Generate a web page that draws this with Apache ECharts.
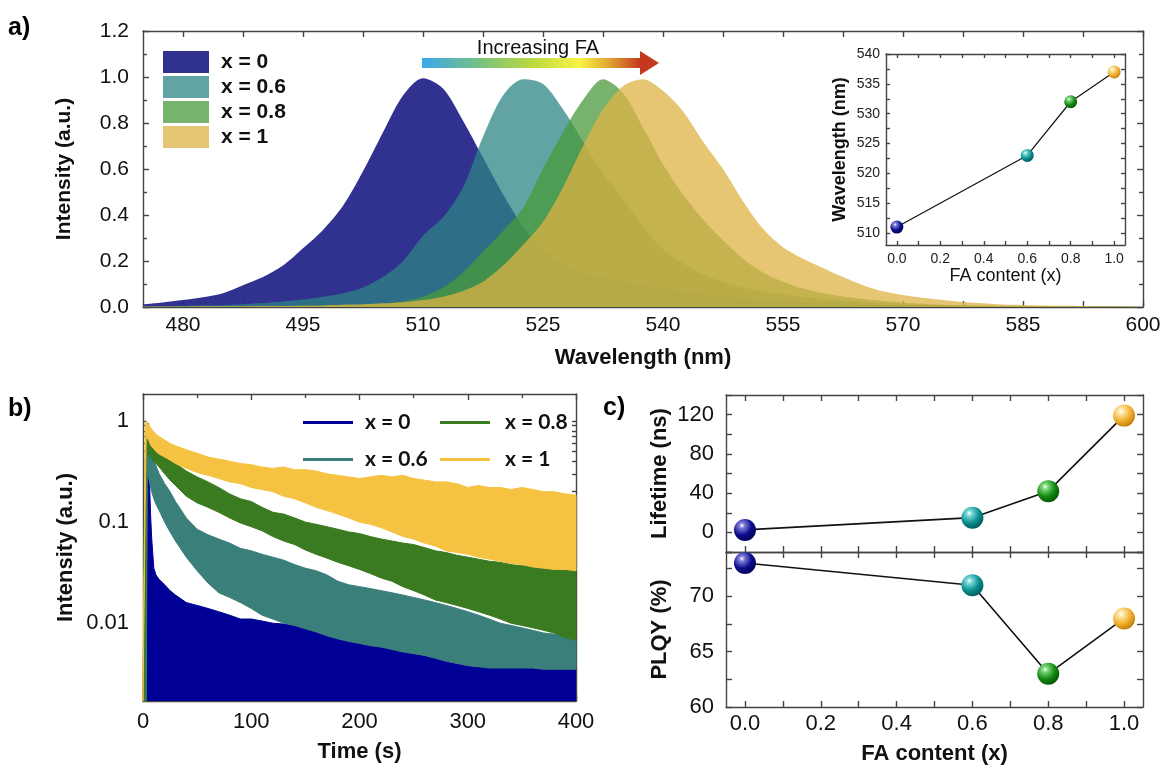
<!DOCTYPE html>
<html><head><meta charset="utf-8">
<script src="https://cdn.jsdelivr.net/npm/echarts@6/dist/echarts.min.js"></script>
<style>html,body{margin:0;padding:0;background:#fff}#c{width:1165px;height:766px}</style>
</head><body><div id="c"></div>
<script>
// ---------- Panel a: PL spectra ----------
const WL = [475,477.5,480,482.5,485,487.5,490,492.5,495,497.5,500,502.5,505,507.5,510,512.5,515,517.5,520,522.5,525,527.5,530,532.5,535,537.5,540,542.5,545,547.5,550,552.5,555,557.5,560,562.5,565,567.5,570,572.5,575,577.5,580,582.5,585,587.5,590,592.5,595,597.5,600];
const PL_X0  = [0.012,0.02,0.03,0.042,0.06,0.095,0.13,0.18,0.255,0.335,0.44,0.59,0.76,0.92,0.995,0.95,0.81,0.65,0.49,0.35,0.25,0.19,0.15,0.13,0.11,0.095,0.08,0.066,0.055,0.046,0.038,0.032,0.026,0.021,0.017,0.014,0.011,0.009,0.007,0.006,0.005,0.004,0.003,0.003,0.002,0.002,0.002,0.001,0.001,0.001,0.001];
const PL_X06 = [0.002,0.003,0.004,0.006,0.008,0.012,0.017,0.024,0.033,0.045,0.06,0.085,0.13,0.2,0.31,0.39,0.52,0.74,0.92,0.99,0.97,0.86,0.72,0.58,0.47,0.35,0.25,0.19,0.14,0.11,0.085,0.068,0.054,0.043,0.034,0.027,0.021,0.016,0.012,0.009,0.007,0.005,0.004,0.003,0.003,0.002,0.002,0.002,0.001,0.001,0.001];
const PL_X08 = [0.001,0.001,0.002,0.002,0.002,0.003,0.003,0.004,0.005,0.007,0.009,0.011,0.015,0.025,0.045,0.085,0.15,0.24,0.33,0.43,0.6,0.76,0.9,0.99,0.93,0.78,0.62,0.49,0.38,0.29,0.21,0.15,0.11,0.08,0.06,0.046,0.035,0.026,0.019,0.014,0.01,0.008,0.006,0.005,0.004,0.003,0.003,0.002,0.002,0.001,0.001];
const PL_X1  = [0.002,0.002,0.002,0.003,0.003,0.003,0.004,0.004,0.005,0.007,0.01,0.012,0.016,0.021,0.03,0.045,0.07,0.11,0.18,0.27,0.37,0.52,0.7,0.86,0.96,0.99,0.94,0.85,0.72,0.6,0.46,0.34,0.26,0.21,0.17,0.13,0.095,0.068,0.052,0.04,0.03,0.022,0.016,0.011,0.009,0.006,0.005,0.004,0.003,0.003,0.002];
const A_X_LABELS = [480,495,510,525,540,555,570,585,600];
const A_Y_LABELS = [0,0.2,0.4,0.6,0.8,1.0,1.2];

// ---------- inset / panel c ----------
const FA = [0, 0.6, 0.8, 1.0];
const PEAK_WL = [511, 523, 532, 537];
const LIFETIME = [2.5, 15, 42, 119];
const PLQY = [73, 71, 63, 68];
const FA_LABELS = [0, 0.2, 0.4, 0.6, 0.8, 1.0];
const INSET_Y_LABELS = [510,515,520,525,530,535,540];
const LT_LABELS = [0, 40, 80, 120];
const PLQY_LABELS = [60, 65, 70];

// ---------- Panel b: decay envelopes (upper / lower edge of each noisy trace) ----------
const TB = [0,2,3,4,5,6,7,8,10,12,15,20,25,30,40,50,60,70,80,90,100,110,120,130,140,150,160,170,180,190,200,210,220,230,240,250,260,270,280,290,300,310,320,330,340,350,360,370,380,390,400];
const X0_UP = [0.002,0.002,0.2,0.8,0.95,0.25,0.12,0.07,0.035,0.03,0.027,0.024,0.021,0.019,0.016,0.015,0.014,0.013,0.012,0.011,0.011,0.0105,0.01,0.0098,0.0095,0.009,0.0085,0.0078,0.007,0.0066,0.0065,0.0063,0.0062,0.006,0.006,0.0058,0.0056,0.0055,0.0054,0.0052,0.005,0.0049,0.0048,0.0046,0.0044,0.0042,0.004,0.0038,0.0037,0.0036,0.0035];
const X06_UP = [0.002,0.03,0.5,0.75,0.68,0.6,0.55,0.5,0.42,0.36,0.3,0.24,0.2,0.16,0.11,0.085,0.075,0.068,0.062,0.055,0.052,0.048,0.045,0.042,0.038,0.035,0.033,0.03,0.026,0.024,0.023,0.022,0.021,0.02,0.019,0.018,0.017,0.016,0.015,0.014,0.013,0.012,0.011,0.01,0.0095,0.009,0.0085,0.008,0.0078,0.0075,0.007];
const X06_LO = [0.0017,0.0017,0.0017,0.3,0.28,0.25,0.22,0.2,0.17,0.15,0.13,0.1,0.08,0.065,0.045,0.033,0.025,0.02,0.018,0.016,0.014,0.012,0.011,0.01,0.0095,0.0088,0.0082,0.0075,0.007,0.0066,0.0063,0.006,0.0058,0.0055,0.0052,0.005,0.0048,0.0045,0.0042,0.004,0.0038,0.0037,0.0036,0.0036,0.0036,0.0036,0.0036,0.0035,0.0035,0.0035,0.0035];
const X08_UP = [0.002,0.4,0.85,0.8,0.76,0.72,0.67,0.63,0.58,0.55,0.52,0.47,0.42,0.38,0.32,0.28,0.25,0.22,0.19,0.17,0.16,0.14,0.125,0.12,0.11,0.1,0.095,0.09,0.085,0.08,0.077,0.072,0.068,0.065,0.062,0.06,0.056,0.052,0.05,0.047,0.045,0.043,0.041,0.04,0.038,0.037,0.037,0.036,0.036,0.035,0.036];
const X08_LO = [0.0017,0.0017,0.4,0.5,0.48,0.46,0.44,0.42,0.4,0.38,0.35,0.3,0.26,0.23,0.18,0.155,0.14,0.125,0.11,0.098,0.09,0.082,0.072,0.065,0.06,0.053,0.048,0.044,0.04,0.037,0.034,0.031,0.028,0.026,0.023,0.021,0.019,0.017,0.016,0.015,0.014,0.013,0.012,0.011,0.01,0.0095,0.009,0.0085,0.008,0.0072,0.0068];
const X1_UP = [0.002,0.9,1.0,0.97,0.93,0.9,0.86,0.83,0.78,0.74,0.7,0.65,0.6,0.57,0.52,0.48,0.44,0.42,0.4,0.38,0.37,0.35,0.34,0.35,0.33,0.33,0.32,0.3,0.29,0.28,0.27,0.28,0.29,0.28,0.29,0.27,0.26,0.25,0.25,0.24,0.22,0.23,0.22,0.22,0.21,0.22,0.21,0.2,0.2,0.19,0.185];
const X1_LO = [0.0017,0.15,0.7,0.68,0.65,0.62,0.58,0.56,0.53,0.5,0.47,0.44,0.41,0.38,0.34,0.31,0.29,0.27,0.25,0.24,0.22,0.21,0.2,0.18,0.17,0.155,0.14,0.13,0.12,0.11,0.1,0.095,0.088,0.08,0.072,0.068,0.062,0.058,0.052,0.05,0.048,0.045,0.043,0.041,0.039,0.038,0.036,0.035,0.034,0.034,0.033];
const B_X_LABELS = [0,100,200,300,400];
const B_Y_LABELS = [0.01, 0.1, 1];

// ---------- styles ----------
const FONT = "'Liberation Sans', Arial, sans-serif";
const A_COLORS = ['rgba(38,38,137,0.95)','rgba(46,132,132,0.75)','rgba(74,154,59,0.75)','rgba(222,179,68,0.75)'];
const B_COLORS = ['#000096','#3b7f7b','#3a7a20','#f5c242'];
const BALLS = [['#7a7ad8','#0c0c8c','#00004a'],['#7ad8d8','#0a9090','#004f4f'],['#7ad87a','#138a13','#004a00'],['#ffe6a8','#f0b030','#b87300']];
const NAMES = ['x = 0','x = 0.6','x = 0.8','x = 1'];

function ball(i){ const c=BALLS[i]; return {type:'radial',x:0.36,y:0.3,r:0.8,colorStops:[{offset:0,color:'#ffffff'},{offset:0.16,color:c[0]},{offset:0.55,color:c[1]},{offset:1,color:c[2]}]}; }
function merge(a,b){ for(const k in b){ const v=b[k]; if(v&&typeof v==='object'&&!Array.isArray(v)&&a[k]&&typeof a[k]==='object'&&!Array.isArray(a[k])) merge(a[k],v); else a[k]=v; } return a; }
const AXL = {color:'#444', width:1.4};
function axis(grid, pos, o){
  const isX = pos==='bottom'||pos==='top';
  const base = {type:'value', gridIndex:grid, position:pos,
    axisLine:{show:true,onZero:false,lineStyle:AXL},
    axisTick:{show:true,inside:true,length:6,lineStyle:AXL},
    minorTick:{show:false},
    axisLabel:{show:(pos==='bottom'||pos==='left'),color:'#111',fontSize:20,fontFamily:FONT,margin:isX?8:14},
    splitLine:{show:false},
    nameTextStyle:{fontFamily:FONT,fontWeight:'bold',fontSize:21,color:'#111'}};
  return merge(base, o||{});
}
function steps(a,b,s){ const r=[]; for(let v=a; v<=b+1e-9; v+=s) r.push(+v.toFixed(4)); return r; }
const A_X_TICKS = steps(480,600,7.5);
const FA_TICKS = steps(0,1,0.1);
const INSET_Y_TICKS = steps(510,540,2.5);
const LOG_TICKS = []; [0.001,0.01,0.1].forEach(d=>{ for(let k=1;k<=9;k++){ const v=+(d*k).toPrecision(3); if(v>=0.0017) LOG_TICKS.push(v);} }); LOG_TICKS.push(1);
const f1 = v => Number(v).toFixed(1);

const xAxis = [
  axis(0,'bottom',{min:475,max:600,axisLabel:{customValues:A_X_LABELS,margin:8,fontSize:21},axisTick:{customValues:A_X_TICKS},name:'Wavelength (nm)',nameLocation:'middle',nameGap:40,nameTextStyle:{fontSize:22}}),
  axis(0,'top',{min:475,max:600,axisTick:{customValues:A_X_TICKS}}),
  axis(1,'bottom',{min:-0.05,max:1.05,axisLabel:{customValues:FA_LABELS,formatter:f1,fontSize:14,margin:7,color:'#222'},axisTick:{customValues:FA_TICKS,length:4},name:'FA content (x)',nameLocation:'middle',nameGap:22,nameTextStyle:{fontSize:18,fontWeight:'normal'}}),
  axis(1,'top',{min:-0.05,max:1.05,axisTick:{customValues:FA_TICKS,length:4}}),
  axis(2,'bottom',{min:0,max:400,interval:100,minorTick:{show:true,splitNumber:2,length:4,lineStyle:AXL},axisLabel:{customValues:B_X_LABELS,fontSize:22,margin:10},name:'Time (s)',nameLocation:'middle',nameGap:40,nameTextStyle:{fontSize:22}}),
  axis(2,'top',{min:0,max:400,interval:100,minorTick:{show:true,splitNumber:2,length:4,lineStyle:AXL}}),
  axis(3,'bottom',{min:-0.05,max:1.05,axisLabel:{show:false},axisTick:{customValues:FA_TICKS}}),
  axis(3,'top',{min:-0.05,max:1.05,axisTick:{customValues:FA_TICKS}}),
  axis(4,'bottom',{min:-0.05,max:1.05,axisLabel:{customValues:FA_LABELS,formatter:f1,fontSize:22,margin:6},axisTick:{customValues:FA_TICKS},name:'FA content (x)',nameLocation:'middle',nameGap:36,nameTextStyle:{fontSize:22}}),
  axis(4,'top',{min:-0.05,max:1.05,axisTick:{customValues:FA_TICKS}})
];
const yAxis = [
  axis(0,'left',{min:0,max:1.2,interval:0.2,minorTick:{show:true,splitNumber:2,length:4,lineStyle:AXL},axisLabel:{formatter:f1,fontSize:21,margin:14},name:'Intensity (a.u.)',nameLocation:'middle',nameGap:68}),
  axis(0,'right',{min:0,max:1.2,interval:0.2,minorTick:{show:true,splitNumber:2,length:4,lineStyle:AXL}}),
  axis(1,'left',{min:508,max:540,axisLabel:{customValues:INSET_Y_LABELS,fontSize:14,margin:6,color:'#222'},axisTick:{customValues:INSET_Y_TICKS,length:4},name:'Wavelength (nm)',nameLocation:'middle',nameGap:37,nameTextStyle:{fontSize:18}}),
  axis(1,'right',{min:508,max:540,axisTick:{customValues:INSET_Y_TICKS,length:4}}),
  axis(2,'left',{type:'log',logBase:10,min:0.0017,max:1.85,axisLabel:{customValues:B_Y_LABELS,fontSize:22,margin:14,formatter:v=>String(v)},axisTick:{customValues:LOG_TICKS,length:4},name:'Intensity (a.u.)',nameLocation:'middle',nameGap:66,nameTextStyle:{fontSize:22}}),
  axis(2,'right',{type:'log',logBase:10,min:0.0017,max:1.85,axisTick:{customValues:LOG_TICKS,length:4}}),
  axis(3,'left',{min:-20,max:140,interval:20,axisLabel:{customValues:LT_LABELS,fontSize:22,margin:12},name:'Lifetime (ns)',nameLocation:'middle',nameGap:55,nameTextStyle:{fontSize:22}}),
  axis(3,'right',{min:-20,max:140,interval:20}),
  axis(4,'left',{min:60,max:74,interval:2.5,axisLabel:{customValues:PLQY_LABELS,fontSize:22,margin:12},name:'PLQY (%)',nameLocation:'middle',nameGap:55,nameTextStyle:{fontSize:22}}),
  axis(4,'right',{min:60,max:74,interval:2.5})
];

const series = [];
[PL_X0,PL_X06,PL_X08,PL_X1].forEach((arr,k)=>{
  series.push({type:'line',name:'a:'+NAMES[k],xAxisIndex:0,yAxisIndex:0,data:WL.map((w,i)=>[w,arr[i]]),
    smooth:0.3,symbol:'none',color:A_COLORS[k],lineStyle:{width:0},areaStyle:{color:A_COLORS[k],opacity:1},z:2});
});
// panel b: x = 0 fills to the axis floor
series.push({type:'line',name:'b:'+NAMES[0],xAxisIndex:4,yAxisIndex:4,data:TB.map((t,i)=>[t,X0_UP[i]]),symbol:'none',
  color:B_COLORS[0],lineStyle:{width:1,color:B_COLORS[0]},areaStyle:{color:B_COLORS[0],opacity:1,origin:'start'},z:2});
// other traces: band between lower and upper envelope, placed by the log axis through api.coord
function bandSeries(k, lo, up){
  return {type:'custom',name:'b:'+NAMES[k],xAxisIndex:4,yAxisIndex:4,color:B_COLORS[k],itemStyle:{color:B_COLORS[k]},
    data:TB.map((t,i)=>[t,up[i],lo[i]]),encode:{x:0,y:[1,2]},z:2+k,
    renderItem:function(params, api){
      if (params.dataIndex !== 0) return null;
      const pts = [];
      for (let i=0;i<TB.length;i++) pts.push(api.coord([TB[i], up[i]]));
      for (let i=TB.length-1;i>=0;i--) pts.push(api.coord([TB[i], lo[i]]));
      return {type:'polygon',shape:{points:pts},style:{fill:B_COLORS[k],stroke:B_COLORS[k],lineWidth:1}};
    }};
}
series.push(bandSeries(1, X06_LO, X06_UP));
series.push(bandSeries(2, X08_LO, X08_UP));
series.push(bandSeries(3, X1_LO, X1_UP));
// inset
series.push({type:'line',name:'inset',xAxisIndex:2,yAxisIndex:2,data:FA.map((x,i)=>({value:[x,PEAK_WL[i]],itemStyle:{color:ball(i)}})),
  symbol:'circle',symbolSize:13,lineStyle:{color:'#111',width:1.2},clip:false,z:6});
// panel c
series.push({type:'line',name:'lt',xAxisIndex:6,yAxisIndex:6,data:FA.map((x,i)=>({value:[x,LIFETIME[i]],itemStyle:{color:ball(i)}})),
  symbol:'circle',symbolSize:22,lineStyle:{color:'#111',width:1.6},clip:false,z:6});
series.push({type:'line',name:'plqy',xAxisIndex:8,yAxisIndex:8,data:FA.map((x,i)=>({value:[x,PLQY[i]],itemStyle:{color:ball(i)}})),
  symbol:'circle',symbolSize:22,lineStyle:{color:'#111',width:1.6},clip:false,z:6});

const strip = n => n.slice(2);
const option = {
  animation:false,
  backgroundColor:'#fff',
  grid:[
    {left:143,top:31,width:1000,height:276},
    {left:886,top:54,width:239,height:191},
    {left:143,top:394,width:433,height:307},
    {left:726,top:395,width:417,height:157},
    {left:726,top:552,width:417,height:156}
  ],
  xAxis, yAxis, series,
  legend:[
    {data:NAMES.map(n=>({name:'a:'+n,icon:'rect'})),orient:'vertical',left:158,top:46,itemWidth:46,itemHeight:22,itemGap:3,selectedMode:false,formatter:strip,z:10,
     textStyle:{fontFamily:FONT,fontWeight:'bold',fontSize:21,color:'#111',padding:[0,0,0,7]}},
    {data:[NAMES[0],NAMES[1]].map(n=>({name:'b:'+n,icon:'rect'})),orient:'vertical',left:298,top:407,itemWidth:50,itemHeight:3,itemGap:16,selectedMode:false,formatter:strip,z:10,
     textStyle:{fontFamily:"Lato, 'Noto Sans', sans-serif",fontWeight:'bold',fontSize:21,color:'#111',padding:[0,0,0,7]}},
    {data:[NAMES[2],NAMES[3]].map(n=>({name:'b:'+n,icon:'rect'})),orient:'vertical',left:435,top:407,itemWidth:50,itemHeight:3,itemGap:16,selectedMode:false,formatter:strip,z:10,
     textStyle:{fontFamily:"Lato, 'Noto Sans', sans-serif",fontWeight:'bold',fontSize:21,color:'#111',padding:[0,0,0,10]}}
  ],
  graphic:[
    {type:'text',left:8,top:16,style:{text:'a)',font:"bold 25px 'Liberation Sans', Arial",fill:'#000'}},
    {type:'text',left:8,top:397,style:{text:'b)',font:"bold 25px 'Liberation Sans', Arial",fill:'#000'}},
    {type:'text',left:603,top:396,style:{text:'c)',font:"bold 25px 'Liberation Sans', Arial",fill:'#000'}},
    {type:'rect',shape:{x:422,y:58,width:219,height:10},style:{fill:{type:'linear',x:0,y:0,x2:1,y2:0,colorStops:[
      {offset:0,color:'#3aa8ea'},{offset:0.28,color:'#7cc27a'},{offset:0.5,color:'#b9d940'},{offset:0.72,color:'#f8f444'},{offset:0.86,color:'#e0a030'},{offset:1,color:'#c4381e'}]}}},
    {type:'polygon',shape:{points:[[640,51],[659,63],[640,75]]},style:{fill:'#c4381e'}},
    {type:'text',x:538,y:48,style:{text:'Increasing FA',fontFamily:FONT,fontSize:20,fill:'#111',align:'center',verticalAlign:'middle'}}
  ]
};
const chart = echarts.init(document.getElementById('c'),null,{renderer:'canvas'});
chart.setOption(option);
</script></body></html>
